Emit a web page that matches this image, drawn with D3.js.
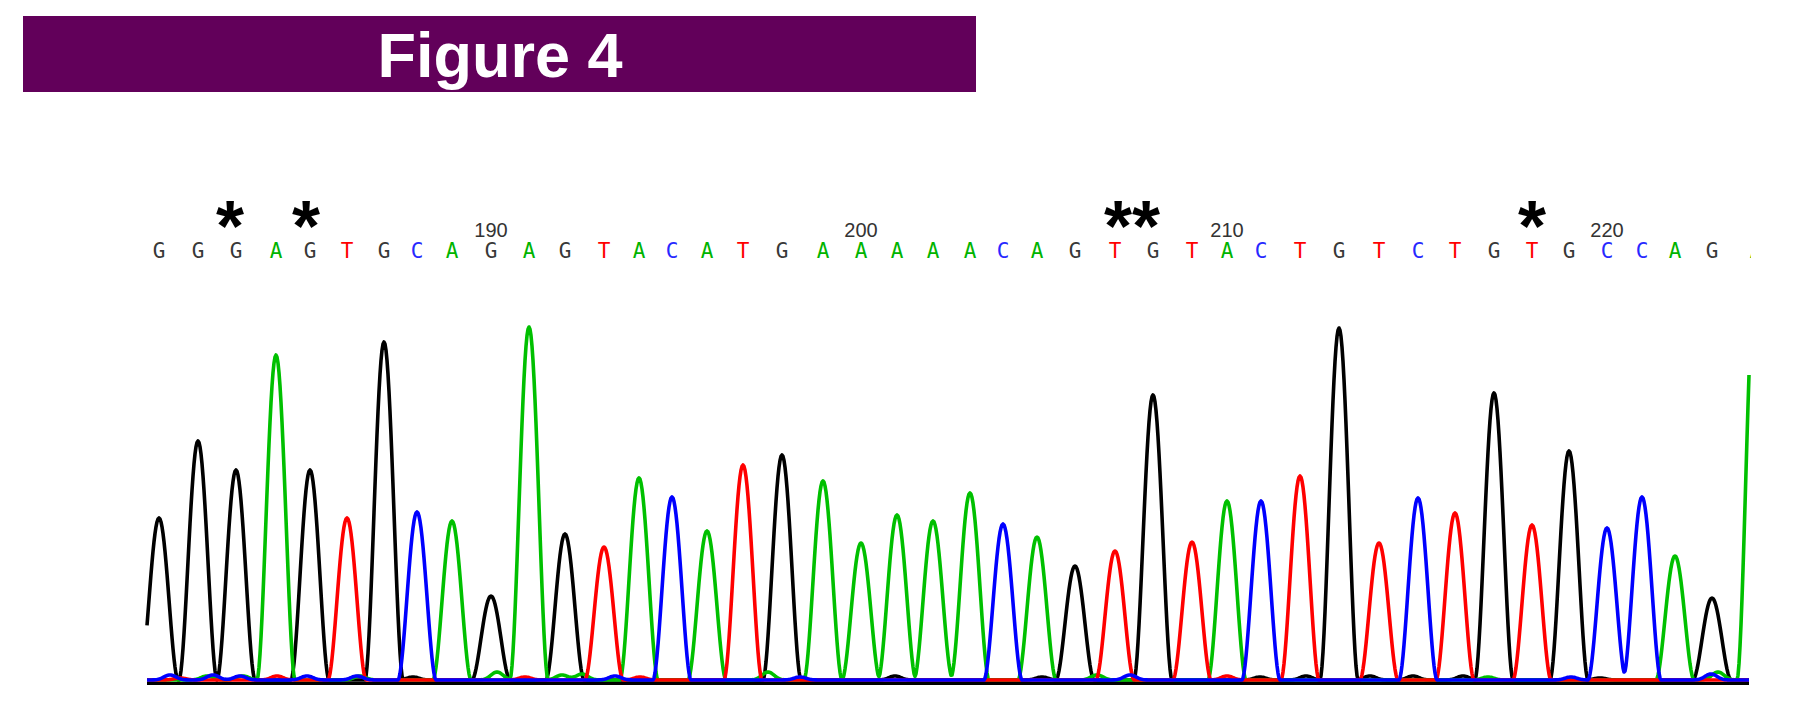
<!DOCTYPE html>
<html>
<head>
<meta charset="utf-8">
<script src="https://cdn.jsdelivr.net/npm/d3@7"></script>
<style>
  body { margin: 0; background: #fff; }
  svg { display: block; }
</style>
</head>
<body>
<div id="chart"></div>
<script>
// base calls, first one is position 181
var bases = "GGGAGTGCAGAGTACATGAAAAACAGTGTACTGTCTGTGCCAGA".split("");
var firstPos = 181;

// peak centre (scan units) and peak height (signal units), one per base
var peakPos = [12, 51, 89, 129, 163, 200, 237, 270, 305, 344, 382, 418, 457, 492, 525,
  560, 596, 635, 676, 714, 750, 786, 823, 856, 890, 928, 968, 1006, 1045, 1080,
  1114, 1153, 1192, 1232, 1271, 1308, 1347, 1385, 1422, 1460, 1495, 1528, 1565, 1609];
var peakHeight = [162, 239, 210, 325, 210, 162, 338, 168, 159, 84, 353, 146, 133, 202, 183,
  149, 215, 225, 199, 137, 165, 159, 187, 156, 143, 114, 129, 285, 138, 179,
  179, 204, 352, 137, 182, 167, 287, 155, 229, 152, 183, 124, 82, 420];

// small baseline bumps per channel: [scan, height]
var noiseG = [[266, 3], [748, 4], [895, 3], [1113, 3], [1159, 4], [1223, 4], [1266, 4], [1316, 4], [1453, 2]];
var noiseA = [[60, 4], [96, 4], [213, 4], [350, 8], [415, 5], [435, 6], [621, 8], [803, 3], [950, 5], [1341, 3], [1571, 8]];
var noiseT = [[33, 2], [130, 4], [378, 3], [493, 3], [1080, 4]];
var noiseC = [[23, 5], [66, 5], [93, 4], [160, 4], [210, 4], [468, 4], [653, 3], [983, 5], [1424, 3], [1564, 6]];

// numbered ticks every 10 bases
var tickPos = [190, 200, 210, 220];

// starred scan positions
var starPos = [83, 159, 971, 999, 1385];

var colors = { G: "#000000", A: "#00c000", T: "#ff0000", C: "#0000ff" };
var letterColors = { G: "#383838", A: "#00b400", T: "#ff0000", C: "#2828ff" };

var svgWidth = 1797, svgHeight = 701;

var svg = d3.select("#chart").append("svg")
  .attr("width", svgWidth)
  .attr("height", svgHeight);

// title bar
svg.append("rect")
  .attr("x", 23).attr("y", 16)
  .attr("width", 953).attr("height", 76)
  .attr("fill", "#62005a");
svg.append("text")
  .attr("x", 500).attr("y", 77)
  .attr("text-anchor", "middle")
  .attr("font-family", "Liberation Sans, Arial, sans-serif")
  .attr("font-weight", "bold")
  .attr("font-size", 63)
  .attr("fill", "#fff")
  .text("Figure 4");

var x = d3.scaleLinear().domain([0, 1602]).range([147, 1749]);
var y = d3.scaleLinear().domain([0, 400]).range([680, 280]);

svg.append("defs").append("clipPath").attr("id", "clip")
  .append("rect").attr("x", 0).attr("y", 0)
  .attr("width", x(1602) + 2).attr("height", svgHeight);

// peak shape: rounded triangle, half base width w
var w = 19, p = 1.8;
function peak(d) {
  if (Math.abs(d) >= w) return 0;
  return Math.pow(Math.cos(Math.PI * d / (2 * w)), p);
}

function channel(base, noise) {
  var pts = [];
  for (var s = 0; s <= 1602; s += 1) {
    var v = 0;
    peakPos.forEach(function(c, i) {
      if (bases[i] === base) v += peakHeight[i] * peak(s - c);
    });
    noise.forEach(function(n) {
      var d = s - n[0];
      v += n[1] * Math.exp(-d * d / (2 * 36));
    });
    pts.push([s, v]);
  }
  return pts;
}

var line = d3.line()
  .x(function(d) { return x(d[0]); })
  .y(function(d) { return y(d[1]); });

// baseline
svg.append("line")
  .attr("x1", x(0)).attr("x2", x(1602))
  .attr("y1", 683.5).attr("y2", 683.5)
  .attr("stroke", "#000").attr("stroke-width", 3);

var traces = [["G", noiseG], ["A", noiseA], ["T", noiseT], ["C", noiseC]];
traces.forEach(function(t) {
  svg.append("path")
    .datum(channel(t[0], t[1]))
    .attr("d", line)
    .attr("fill", "none")
    .attr("stroke", colors[t[0]])
    .attr("stroke-width", 3.6)
    .attr("stroke-linejoin", "round");
});

// base letters
var letters = svg.append("g").attr("clip-path", "url(#clip)");
letters.selectAll("text")
  .data(bases)
  .enter()
  .append("text")
  .attr("x", function(d, i) { return x(peakPos[i]); })
  .attr("y", 258)
  .attr("text-anchor", "middle")
  .attr("font-family", "DejaVu Sans Mono, monospace")
  .attr("font-size", 21)
  .attr("fill", function(d) { return letterColors[d]; })
  .text(function(d) { return d; });

// position numbers
svg.selectAll(".tick")
  .data(tickPos)
  .enter()
  .append("text")
  .attr("class", "tick")
  .attr("x", function(d) { return x(peakPos[d - firstPos]); })
  .attr("y", 237)
  .attr("text-anchor", "middle")
  .attr("font-family", "Liberation Sans, Arial, sans-serif")
  .attr("font-size", 20)
  .attr("fill", "#333")
  .text(function(d) { return d; });

// stars
svg.selectAll(".star")
  .data(starPos)
  .enter()
  .append("text")
  .attr("class", "star")
  .attr("x", function(d) { return x(d); })
  .attr("y", 251)
  .attr("text-anchor", "middle")
  .attr("font-family", "Liberation Sans, Arial, sans-serif")
  .attr("font-weight", "bold")
  .attr("font-size", 72)
  .attr("fill", "#000")
  .text("*");
</script>
</body>
</html>
